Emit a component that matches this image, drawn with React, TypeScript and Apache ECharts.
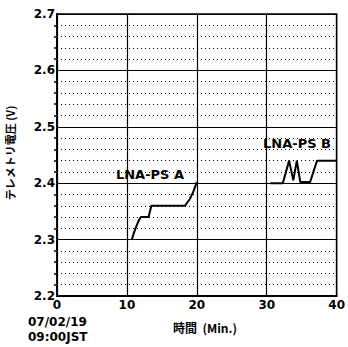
import React, { useEffect, useRef } from "react";
import * as echarts from "echarts";

const xTicks = [0, 10, 20, 30, 40];
const yTicks = [2.2, 2.3, 2.4, 2.5, 2.6, 2.7];
const seriesAName = "LNA-PS A";
const seriesBName = "LNA-PS B";
const seriesA: [number, number][] = [
  [10.7, 2.3], [11.0, 2.312], [11.3, 2.322], [11.7, 2.334], [12.0, 2.34],
  [13.1, 2.34], [13.5, 2.36], [18.3, 2.36], [19.0, 2.372], [19.5, 2.385], [20.0, 2.402],
];
const seriesB: [number, number][] = [
  [30.5, 2.4], [32.3, 2.4], [33.2, 2.44], [33.8, 2.405], [34.3, 2.44], [34.8, 2.402],
  [36.2, 2.402], [37.2, 2.44], [40, 2.44],
];
const xName = "時間  (Min.)";
const yName = "テレメトリ電圧 (V)";
const dateLines = ["07/02/19", "09:00JST"];

export default function App() {
  const ref = useRef<HTMLDivElement>(null);
  useEffect(() => {
    if (!ref.current) return;
    const chart = echarts.init(ref.current, null, { renderer: "svg" });
    const font = "DejaVu Sans";
    chart.setOption({
      animation: false,
      backgroundColor: "#ffffff",
      grid: {
        left: 57, top: 14, width: 284, height: 282,
        show: true, borderColor: "#000", borderWidth: 1.5, backgroundColor: "transparent",
      },
      xAxis: {
        type: "value", min: xTicks[0], max: xTicks[xTicks.length - 1], interval: 10,
        axisLine: { show: true, lineStyle: { color: "#000", width: 2 } },
        axisTick: { show: false },
        axisLabel: { color: "#000", fontFamily: font, fontWeight: "bold", fontSize: 12, margin: 3 },
        splitLine: { show: true, lineStyle: { color: "#000", width: 1.2 } },
      },
      yAxis: {
        type: "value", min: yTicks[0], max: yTicks[yTicks.length - 1], interval: 0.1,
        axisLine: { show: true, lineStyle: { color: "#000", width: 2 } },
        axisTick: { show: false },
        minorTick: { show: true, splitNumber: 5, length: 3, lineStyle: { color: "#000", width: 1.5 } },
        minorSplitLine: { show: true, lineStyle: { color: "#000", width: 1, type: [1, 3] } },
        axisLabel: {
          color: "#000", fontFamily: font, fontWeight: "bold", fontSize: 12, margin: 2,
          formatter: (v: number) => v.toFixed(1),
        },
        splitLine: { show: true, lineStyle: { color: "#000", width: 1.2 } },
      },
      graphic: [
        {
          type: "text", x: 10, y: 153, rotation: Math.PI / 2, originX: 0, originY: 0,
          style: {
            text: yName, fill: "#000", font: "bold 11px 'Noto Sans CJK JP'",
            align: "center", verticalAlign: "middle",
          },
        },
        {
          type: "text", x: 205, y: 327,
          style: { text: xName, fill: "#000", font: "bold 12px 'Noto Sans CJK JP'", align: "center", verticalAlign: "middle" },
        },
        {
          type: "text", x: 28, y: 314,
          style: { text: dateLines.join("\n"), fill: "#000", font: "bold 12px 'DejaVu Sans'", lineHeight: 15 },
        },
        {
          type: "text", x: 150, y: 174,
          style: {
            text: seriesAName, fill: "#000", font: "bold 13px 'DejaVu Sans'", align: "center",
            verticalAlign: "middle", backgroundColor: "#fff", padding: [1, 6],
          },
        },
        {
          type: "text", x: 297, y: 143,
          style: {
            text: seriesBName, fill: "#000", font: "bold 13px 'DejaVu Sans'", align: "center",
            verticalAlign: "middle", backgroundColor: "#fff", padding: [1, 4],
          },
        },
      ],
      series: [
        {
          name: seriesAName, type: "line", data: seriesA, showSymbol: false,
          lineStyle: { color: "#000", width: 2 }, z: 5,
        },
        {
          name: seriesBName, type: "line", data: seriesB, showSymbol: false,
          lineStyle: { color: "#000", width: 2 }, z: 5,
        },
      ],
    });
    return () => chart.dispose();
  }, []);
  return (
    <div
      ref={ref}
      style={{ position: "fixed", left: 0, top: 0, width: 348, height: 347, background: "#fff" }}
    />
  );
}
